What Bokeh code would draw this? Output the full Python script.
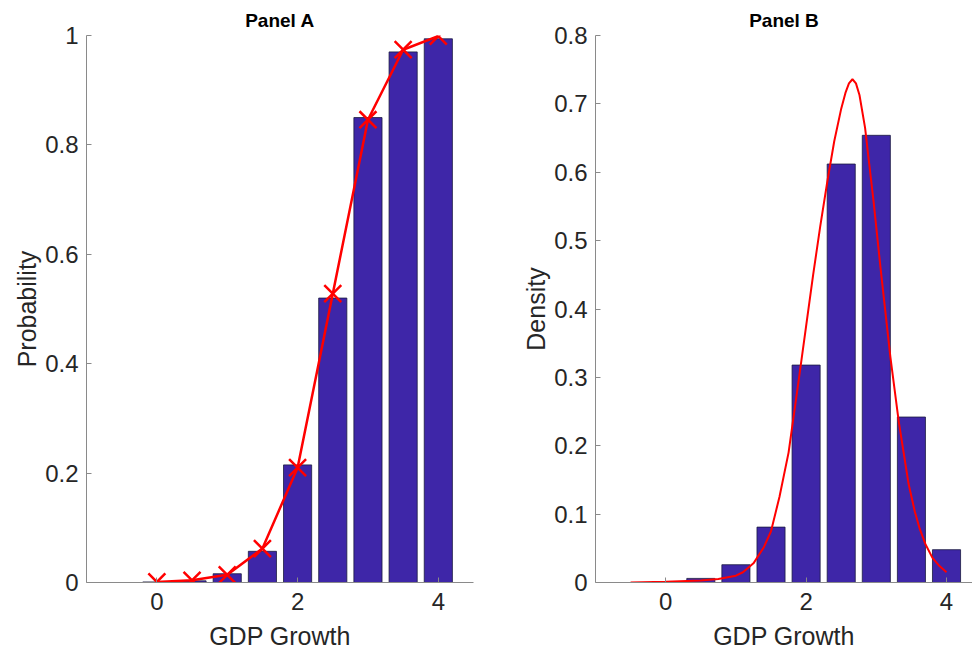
from bokeh.plotting import figure
from bokeh.layouts import row
from bokeh.models import Range1d, FixedTicker
from bokeh.embed import file_html
from bokeh.resources import INLINE

# ---------------- data ----------------
growth_a = [0.0, 0.5, 1.0, 1.5, 2.0, 2.5, 3.0, 3.5, 4.0]
prob_bars = [0.001, 0.003, 0.016, 0.057, 0.215, 0.52, 0.85, 0.97, 0.994]
prob_marks = [0.001, 0.004, 0.014, 0.062, 0.21, 0.528, 0.846, 0.974, 0.999]

growth_b = [0.5, 1.0, 1.5, 2.0, 2.5, 3.0, 3.5, 4.0]
dens_bars = [0.006, 0.026, 0.081, 0.318, 0.612, 0.654, 0.242, 0.048]

curve_x = [-0.5, 0.0, 0.5, 0.75, 1.0, 1.1, 1.25, 1.4, 1.5, 1.62, 1.75, 1.9,
           2.0, 2.1, 2.2, 2.3, 2.4, 2.5, 2.56, 2.61, 2.66, 2.71, 2.76, 2.84,
           2.9, 2.96, 3.06, 3.2, 3.32, 3.46, 3.55, 3.62, 3.7, 3.8, 3.9, 4.0]
curve_y = [0.000, 0.001, 0.003, 0.005, 0.010, 0.015, 0.028, 0.052, 0.075,
           0.125, 0.19, 0.30, 0.375, 0.45, 0.52, 0.585, 0.645, 0.693, 0.716,
           0.730, 0.736, 0.730, 0.713, 0.665, 0.611, 0.558, 0.46, 0.33, 0.235,
           0.144, 0.103, 0.078, 0.056, 0.036, 0.024, 0.015]

xticks = [0, 2, 4]
yticks_a = [0, 0.2, 0.4, 0.6, 0.8, 1.0]
ylabels_a = ["0", "0.2", "0.4", "0.6", "0.8", "1"]
yticks_b = [0, 0.1, 0.2, 0.3, 0.4, 0.5, 0.6, 0.7, 0.8]
ylabels_b = ["0", "0.1", "0.2", "0.3", "0.4", "0.5", "0.6", "0.7", "0.8"]

BAR = "#3E26A8"
RED = "#FF0000"
TXT = "#262626"
AX = "#8a8a8a"
FONT = "Liberation Sans"


def style(p, yticks, ylabels, ylab):
    p.title.text_font = FONT
    p.title.text_font_size = "19px"
    p.title.text_font_style = "bold"
    p.title.text_color = "#000000"
    p.title.align = "center"
    p.xgrid.visible = False
    p.ygrid.visible = False
    p.outline_line_color = None
    p.xaxis.ticker = FixedTicker(ticks=xticks)
    p.yaxis.ticker = FixedTicker(ticks=yticks)
    p.yaxis.major_label_overrides = {t: l for t, l in zip(yticks, ylabels)}
    for ax in (p.xaxis[0], p.yaxis[0]):
        ax.axis_line_color = AX
        ax.major_tick_line_color = AX
        ax.major_tick_in = 5
        ax.major_tick_out = 0
        ax.minor_tick_line_color = None
        ax.major_label_text_font = FONT
        ax.major_label_text_font_size = "24px"
        ax.major_label_text_color = TXT
        ax.axis_label_text_font = FONT
        ax.axis_label_text_font_size = "25px"
        ax.axis_label_text_font_style = "normal"
        ax.axis_label_text_color = TXT
    p.xaxis.axis_label = "GDP Growth"
    p.yaxis.axis_label = ylab
    p.xaxis.major_label_standoff = 10
    p.yaxis.major_label_standoff = 8
    p.xaxis.axis_label_standoff = 9
    p.yaxis.axis_label_standoff = 1


pa = figure(width=486, height=652, output_backend="svg", toolbar_location=None,
            x_range=Range1d(-1, 4.5), y_range=Range1d(0, 1.0), title="Panel A",
            min_border_left=86, min_border_right=13, min_border_top=35,
            min_border_bottom=70)
pa.vbar(x=growth_a, top=prob_bars, bottom=0, width=0.4, fill_color=BAR,
        line_color="#1a1a40", line_width=0.8)
pa.line(growth_a, prob_marks, line_color=RED, line_width=2.5)
pa.scatter(growth_a, prob_marks, marker="x", size=24, line_color=RED, line_width=2.5)
style(pa, yticks_a, ylabels_a, "Probability")

pb = figure(width=486, height=652, output_backend="svg", toolbar_location=None,
            x_range=Range1d(-1, 4.37), y_range=Range1d(0, 0.8), title="Panel B",
            min_border_left=109, min_border_right=0, min_border_top=35,
            min_border_bottom=70)
pb.vbar(x=growth_b, top=dens_bars, bottom=0, width=0.4, fill_color=BAR,
        line_color="#1a1a40", line_width=0.8)
pb.line(curve_x, curve_y, line_color=RED, line_width=2)
style(pb, yticks_b, ylabels_b, "Density")

layout = row(pa, pb)
open("out.html", "w").write(file_html(layout, INLINE))
